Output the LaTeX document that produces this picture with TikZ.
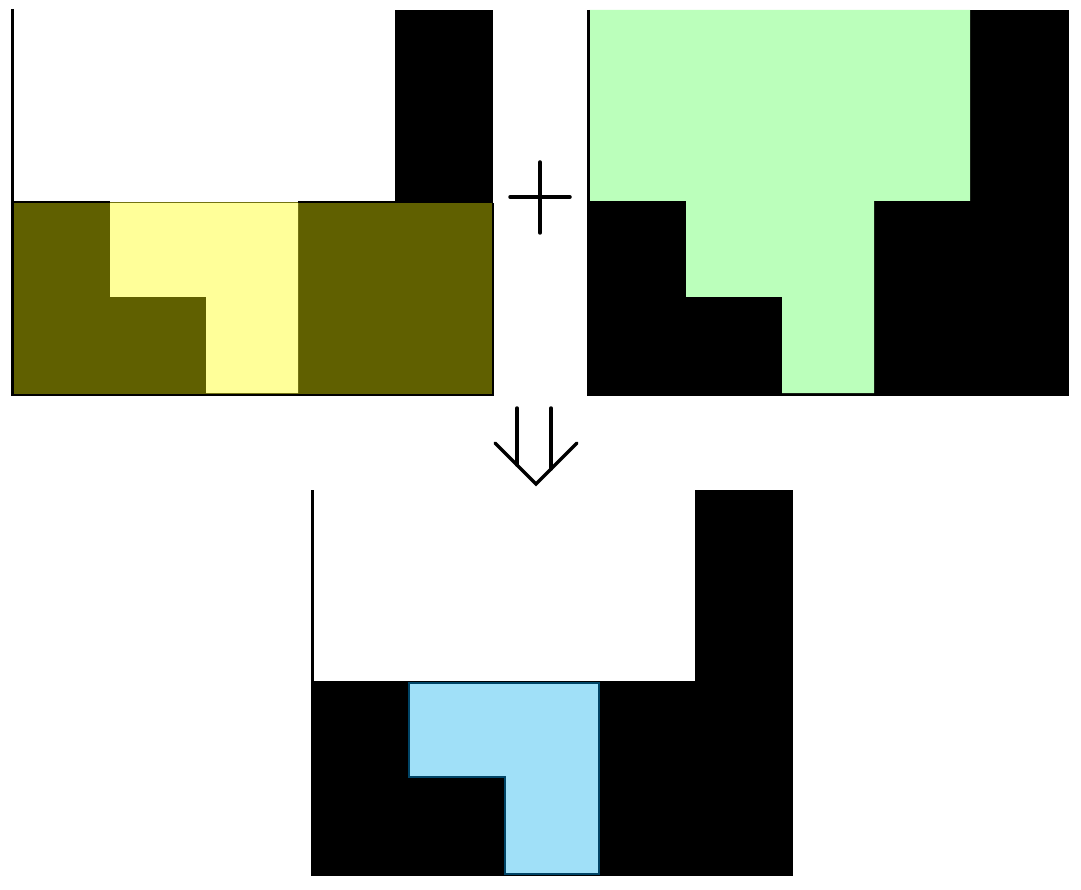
\documentclass[tikz,border=0pt]{standalone}
\usetikzlibrary{calc}
\definecolor{olive}{RGB}{96,96,0}
\definecolor{lyellow}{RGB}{255,255,153}
\definecolor{lgreen}{RGB}{187,255,187}
\definecolor{lblue}{RGB}{160,224,248}
\definecolor{dteal}{RGB}{0,68,102}
\tikzset{
  wall/.style={line width=3.5pt, line cap=butt},
  symb/.style={line width=3.5pt, line cap=round, line join=miter},
}
\begin{document}
\begin{tikzpicture}[x=1pt,y=-1pt]
\useasboundingbox (0,0) rectangle (1081,890);
% ---------- top-left panel ----------
\fill[olive] (11,202) rectangle (493,395);
\fill[lyellow] (110,203) -- (298,203) -- (298,393) -- (206,393) -- (206,297) -- (110,297) -- cycle;
\fill[black] (395,10) rectangle (493,203);
\draw[line width=2pt] (11,202) -- (110,202);
\draw[line width=2pt] (298,202) -- (395,202);
\draw[line width=1.5pt] (493,203) -- (493,396);
\draw[line width=2.5pt] (11,394.8) -- (493.7,394.8);
\draw[wall] (12.5,9) -- (12.5,396);
% ---------- plus ----------
\draw[symb] (510,197) -- (570,197);
\draw[symb] (540,162) -- (540,233);
% ---------- top-right panel ----------
\fill[black] (587,201) rectangle (1069,396);
\fill[black] (970,10) rectangle (1069,201);
\fill[lgreen] (590,10) -- (970,10) -- (970,201) -- (874,201) -- (874,393) -- (782,393) -- (782,297) -- (686,297) -- (686,201) -- (590,201) -- cycle;
\draw[wall] (588.5,10) -- (588.5,396);
% ---------- arrow ----------
\draw[symb] (517,408) -- (517,465);
\draw[symb] (551,408) -- (551,469);
\draw[symb] (495,443) -- (536,484) -- (577,443);
% ---------- bottom panel ----------
\fill[black] (311,681) rectangle (793,876);
\fill[black] (695,490) rectangle (793,681);
\filldraw[fill=lblue, draw=dteal, line width=1.5pt] (409,683) -- (599,683) -- (599,874) -- (505,874) -- (505,777) -- (409,777) -- cycle;
\draw[wall] (312.5,490) -- (312.5,876);
\end{tikzpicture}
\end{document}
